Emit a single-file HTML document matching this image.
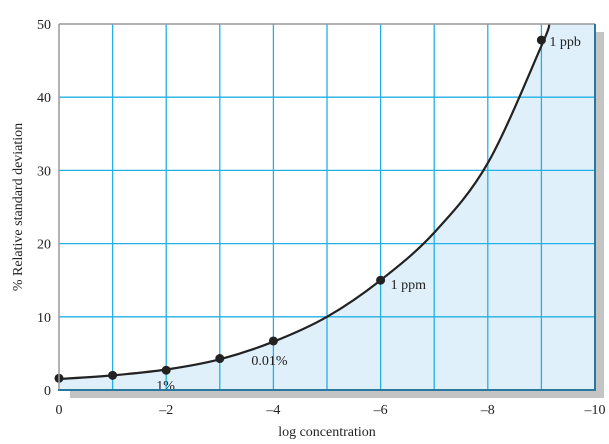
<!DOCTYPE html>
<html><head><meta charset="utf-8"><style>
body{margin:0;background:#fff;}
svg{display:block;font-family:"Liberation Serif",serif;}
</style></head><body>
<svg id="chart" width="609" height="444">
<rect x="70" y="390" width="534" height="8" fill="#c4c4c4"/>
<rect x="595" y="32" width="9" height="366" fill="#c4c4c4"/>
<rect x="59" y="24" width="536" height="366" fill="#fff"/>
<path id="area" fill="#dff0fb"/>
<g id="grid"></g>
<path id="curve" fill="none" stroke="#222" stroke-width="2.2"/>
<g id="pts"></g>
<g id="ticks"></g>
<line x1="59" y1="24" x2="595" y2="24" stroke="#999" stroke-width="1.5"/>
<line x1="59" y1="24" x2="59" y2="390" stroke="#999" stroke-width="1.5"/>
<line x1="595" y1="24" x2="595" y2="391" stroke="#2a78a0" stroke-width="2"/>
<line x1="58" y1="390" x2="596" y2="390" stroke="#2a78a0" stroke-width="2"/>
<text x="327" y="436" font-size="14" text-anchor="middle" fill="#222">log concentration</text>
<text transform="translate(22,207) rotate(-90)" font-size="14" text-anchor="middle" fill="#222">% Relative standard deviation</text>
</svg>
<script>
const xTicks=[0,-2,-4,-6,-8,-10];
const xGrid=[-1,-2,-3,-4,-5,-6,-7,-8,-9];
const yTicks=[0,10,20,30,40,50];
const ptX=[0,-1,-2,-3,-4,-6,-9];
const ptY=[1.6,2.0,2.7,4.3,6.7,15,47.8];
const curveX=[0,-1,-2,-3,-4,-5,-6,-7,-8,-9,-9.15];
const curveY=[1.5,2.0,2.8,4.2,6.6,10,15,21.5,31,47,50];
const labels=[{t:"1%",x:-2,y:2.7,dx:-10,dy:20},{t:"0.01%",x:-4,y:6.7,dx:-22,dy:24},{t:"1 ppm",x:-6,y:15,dx:10,dy:9},{t:"1 ppb",x:-9,y:47.8,dx:8,dy:6}];
const X=v=>59+(v/-10)*536, Y=v=>390-v*7.32;
const NS="http://www.w3.org/2000/svg";
function mk(tag,a,p){const e=document.createElementNS(NS,tag);for(const k in a)e.setAttribute(k,a[k]);p.appendChild(e);return e;}
const grid=document.getElementById('grid'),ticks=document.getElementById('ticks'),pts=document.getElementById('pts');
xGrid.forEach(v=>{const l=mk('line',{x1:X(v),x2:X(v),y1:24,y2:390,stroke:'#22b0e6','stroke-width':1.3},grid);

});
yTicks.slice(1,-1).forEach(v=>{const l=mk('line',{x1:59,x2:595,y1:Y(v),y2:Y(v),stroke:'#22b0e6','stroke-width':1.3},grid);

});
xTicks.forEach(v=>{const t=mk('text',{x:X(v),y:414,'font-size':14,'text-anchor':'middle',fill:'#222'},ticks);t.textContent=v<0?'\u2013'+(-v):String(v);

});
yTicks.forEach(v=>{const t=mk('text',{x:51,y:Y(v)+5,'font-size':14,'text-anchor':'end',fill:'#222'},ticks);t.textContent=v;

});
const P=curveX.map((x,i)=>[X(x),Y(curveY[i])]);
let d='M'+P[0][0]+','+P[0][1];
for(let i=0;i<P.length-1;i++){const p0=P[i-1]||P[i],p1=P[i],p2=P[i+1],p3=P[i+2]||p2;
d+=` C${p1[0]+(p2[0]-p0[0])/6},${p1[1]+(p2[1]-p0[1])/6} ${p2[0]-(p3[0]-p1[0])/6},${p2[1]-(p3[1]-p1[1])/6} ${p2[0]},${p2[1]}`;}
document.getElementById('curve').setAttribute('d',d);
const last=P[P.length-1];
document.getElementById('area').setAttribute('d',d+` L595,${last[1]} L595,390 L${P[0][0]},390 Z`);
ptX.forEach((x,i)=>{const c=mk('circle',{cx:X(x),cy:Y(ptY[i]),r:4.5,fill:'#222'},pts);

});
labels.forEach(o=>{const t=mk('text',{x:X(o.x)+o.dx,y:Y(o.y)+o.dy,'font-size':14,fill:'#222'},pts);t.textContent=o.t;

});
</script>
</body></html>
